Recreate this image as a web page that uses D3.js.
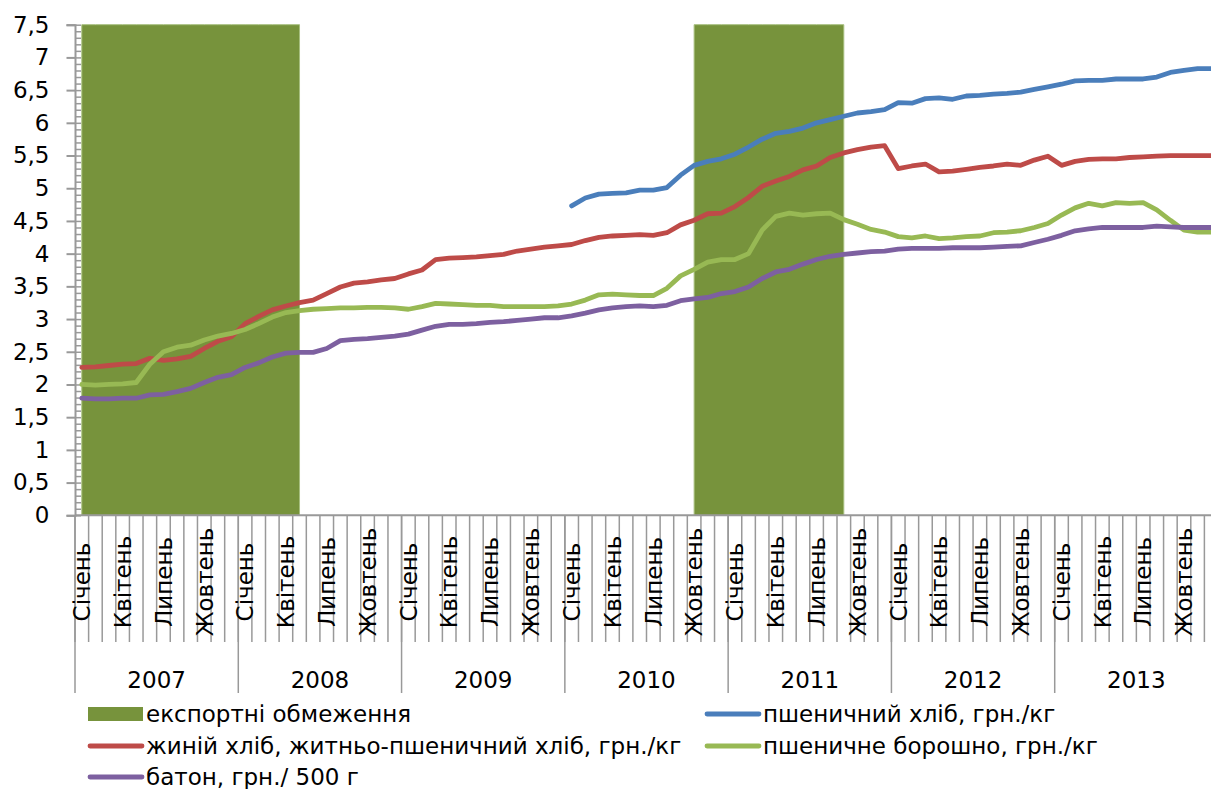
<!DOCTYPE html>
<html lang="uk">
<head>
<meta charset="utf-8">
<script src="https://cdn.jsdelivr.net/npm/d3@7"></script>
<style>
    html, body { margin: 0; padding: 0; background: #fff; }
    svg { display: block; }
</style>
</head>
<body>
<svg id="chart"></svg>
<script>
// 1. DATA
// ============================
const years = ["2007", "2008", "2009", "2010", "2011", "2012", "2013"];
const monthNames = ["Січень", "Лютий", "Березень", "Квітень", "Травень", "Червень",
                    "Липень", "Серпень", "Вересень", "Жовтень", "Листопад", "Грудень"];
const labelEvery = 3; // only every third month is labelled

// export restrictions: [first month, last month] as month index from Jan 2007
const exportPeriods = [[0, 16], [45, 56]];
const exportTop = 7.5;

// пшеничний хліб, грн./кг (no data before 2010)
const wheatBread = [
    null, null, null, null, null, null, null, null, null, null, null, null,
    null, null, null, null, null, null, null, null, null, null, null, null,
    null, null, null, null, null, null, null, null, null, null, null, null,
    4.73, 4.85, 4.91, 4.92, 4.93, 4.97, 4.97, 5.01, 5.20, 5.35, 5.41, 5.45,
    5.52, 5.63, 5.75, 5.84, 5.87, 5.92, 6.00, 6.05, 6.10, 6.15, 6.17, 6.20,
    6.31, 6.30, 6.37, 6.38, 6.36, 6.41, 6.42, 6.44, 6.45, 6.47, 6.51, 6.55,
    6.59, 6.64, 6.65, 6.65, 6.67, 6.67, 6.67, 6.70, 6.77, 6.80, 6.83, 6.83
];
// жиній хліб, житньо-пшеничний хліб, грн./кг
const ryeBread = [
    2.26, 2.27, 2.29, 2.31, 2.32, 2.40, 2.37, 2.39, 2.43, 2.55, 2.66, 2.73,
    2.93, 3.04, 3.14, 3.20, 3.25, 3.29, 3.39, 3.49, 3.55, 3.57, 3.60, 3.62,
    3.69, 3.75, 3.91, 3.93, 3.94, 3.95, 3.97, 3.99, 4.04, 4.07, 4.10, 4.12,
    4.14, 4.20, 4.25, 4.27, 4.28, 4.29, 4.28, 4.32, 4.44, 4.51, 4.61, 4.62,
    4.72, 4.86, 5.03, 5.11, 5.18, 5.28, 5.34, 5.47, 5.54, 5.59, 5.63, 5.65,
    5.30, 5.34, 5.37, 5.25, 5.26, 5.29, 5.32, 5.34, 5.37, 5.35, 5.43, 5.49,
    5.35, 5.41, 5.44, 5.45, 5.45, 5.47, 5.48, 5.49, 5.50, 5.50, 5.50, 5.50
];
// пшеничне борошно, грн./кг
const wheatFlour = [
    2.00, 1.99, 2.00, 2.01, 2.03, 2.31, 2.50, 2.57, 2.60, 2.68, 2.74, 2.78,
    2.84, 2.93, 3.03, 3.10, 3.13, 3.15, 3.16, 3.17, 3.17, 3.18, 3.18, 3.17,
    3.15, 3.19, 3.24, 3.23, 3.22, 3.21, 3.21, 3.19, 3.19, 3.19, 3.19, 3.20,
    3.23, 3.29, 3.37, 3.38, 3.37, 3.36, 3.36, 3.47, 3.66, 3.76, 3.87, 3.91,
    3.91, 4.00, 4.36, 4.57, 4.62, 4.59, 4.61, 4.62, 4.52, 4.45, 4.37, 4.33,
    4.26, 4.24, 4.27, 4.23, 4.24, 4.26, 4.27, 4.32, 4.33, 4.35, 4.40, 4.46,
    4.59, 4.70, 4.77, 4.73, 4.78, 4.77, 4.78, 4.67, 4.51, 4.36, 4.33, 4.33
];
// батон, грн./ 500 г
const loaf = [
    1.79, 1.78, 1.78, 1.79, 1.79, 1.84, 1.85, 1.89, 1.94, 2.03, 2.11, 2.15,
    2.26, 2.33, 2.42, 2.48, 2.49, 2.49, 2.55, 2.67, 2.69, 2.70, 2.72, 2.74,
    2.77, 2.83, 2.89, 2.92, 2.92, 2.93, 2.95, 2.96, 2.98, 3.00, 3.02, 3.02,
    3.05, 3.09, 3.14, 3.17, 3.19, 3.20, 3.19, 3.21, 3.28, 3.31, 3.33, 3.39,
    3.42, 3.49, 3.62, 3.72, 3.76, 3.84, 3.91, 3.96, 3.99, 4.01, 4.03, 4.04,
    4.07, 4.08, 4.08, 4.08, 4.09, 4.09, 4.09, 4.10, 4.11, 4.12, 4.17, 4.22,
    4.28, 4.35, 4.38, 4.40, 4.40, 4.40, 4.40, 4.42, 4.41, 4.40, 4.40, 4.40
];

const seriesList = [
    { name: "пшеничний хліб, грн./кг", values: wheatBread, color: "#4A7EBB" },
    { name: "жиній хліб, житньо-пшеничний хліб, грн./кг", values: ryeBread, color: "#BE4B48" },
    { name: "пшеничне борошно, грн./кг", values: wheatFlour, color: "#98B954" },
    { name: "батон, грн./ 500 г", values: loaf, color: "#7D60A0" }
];
const bandName = "експортні обмеження";
const bandColor = "#77933C";

// 2. SVG AND SCALES
// ============================
const width = 1211, height = 789;
const plotLeft = 75, plotRight = 1218, plotTop = 24.7, plotBottom = 515.3;
const axisColor = "#999";
const fontFamily = "'DejaVu Sans', Verdana, sans-serif";
const fontSize = 23;

const svg = d3.select("#chart")
    .attr("width", width).attr("height", height)
    .attr("font-family", fontFamily).attr("font-size", fontSize);

const months = d3.range(years.length * 12);
const x = d3.scaleBand().domain(months).range([plotLeft, plotRight]).padding(0);
const xc = i => x(i) + x.bandwidth() / 2;
const y = d3.scaleLinear().domain([0, 7.5]).range([plotBottom, plotTop]);

const ua = d3.formatLocale({ decimal: ",", thousands: " ", grouping: [3], currency: ["", " грн"] });
const fmt = ua.format(".1~f");

// 3. EXPORT RESTRICTION BANDS
// ============================
const bandArea = d3.area()
    .x(d => xc(d))
    .y0(y(0))
    .y1(y(exportTop));

svg.append("g").selectAll("path")
    .data(exportPeriods)
    .join("path")
    .attr("d", p => bandArea(d3.range(p[0], p[1] + 1)))
    .attr("fill", bandColor)
    .attr("stroke", "#a7bf7e")
    .attr("stroke-width", 1);

// 4. AXES
// ============================
// y: major ticks outside, minor ticks (0.1) inside
const yMinor = d3.axisRight(y).tickValues(d3.range(0, 76).map(d => d / 10))
    .tickSize(6).tickFormat("");
svg.append("g").attr("transform", `translate(${plotLeft},0)`).call(yMinor)
    .call(g => g.select(".domain").remove())
    .call(g => g.selectAll("line").attr("stroke", axisColor).attr("stroke-width", 1.5));

const yAxis = d3.axisLeft(y).tickValues(d3.range(0, 16).map(d => d / 2))
    .tickSize(8.5).tickPadding(17).tickFormat(fmt);
svg.append("g").attr("transform", `translate(${plotLeft},0)`).call(yAxis)
    .attr("font-family", fontFamily).attr("font-size", fontSize)
    .call(g => g.select(".domain").attr("stroke", axisColor).attr("stroke-width", 2))
    .call(g => g.selectAll("line").attr("stroke", axisColor).attr("stroke-width", 2))
    .call(g => g.selectAll("text").attr("fill", "#000"));

// x: month boundary lines, year boundary lines, and labels
const xg = svg.append("g");
xg.append("line")
    .attr("x1", plotLeft).attr("x2", plotRight)
    .attr("y1", plotBottom).attr("y2", plotBottom)
    .attr("stroke", axisColor).attr("stroke-width", 2);

xg.selectAll(".mtick")
    .data(d3.range(months.length + 1))
    .join("line")
    .attr("class", "mtick")
    .attr("x1", i => plotLeft + i * x.bandwidth())
    .attr("x2", i => plotLeft + i * x.bandwidth())
    .attr("y1", plotBottom).attr("y2", 642)
    .attr("stroke", axisColor).attr("stroke-width", 1.5);

xg.selectAll(".ytick")
    .data(d3.range(years.length + 1))
    .join("line")
    .attr("class", "ytick")
    .attr("x1", i => x(i * 12) ?? plotRight)
    .attr("x2", i => x(i * 12) ?? plotRight)
    .attr("y1", plotBottom).attr("y2", 693)
    .attr("stroke", axisColor).attr("stroke-width", 1.5);

xg.selectAll(".mlabel")
    .data(months.filter(i => i % labelEvery === 0))
    .join("text")
    .attr("class", "mlabel")
    .attr("text-anchor", "middle")
    .attr("dy", "0.36em")
    .attr("transform", i => `translate(${xc(i)},582) rotate(-90)`)
    .text(i => monthNames[i % 12]);

xg.selectAll(".ylabel")
    .data(years)
    .join("text")
    .attr("class", "ylabel")
    .attr("text-anchor", "middle")
    .attr("dy", "0.36em")
    .attr("x", (d, k) => (x(k * 12) + (x(k * 12 + 11) + x.bandwidth())) / 2)
    .attr("y", 680)
    .text(d => d);

// 5. LINES
// ============================
const line = d3.line()
    .defined(d => d != null)
    .x((d, i) => xc(i))
    .y(d => y(d));

svg.append("g").selectAll("path")
    .data(seriesList)
    .join("path")
    .attr("d", s => line(s.values))
    .attr("fill", "none")
    .attr("stroke", s => s.color)
    .attr("stroke-width", 4.8)
    .attr("stroke-linejoin", "round")
    .attr("stroke-linecap", "round");

// 6. LEGEND
// ============================
const legendItems = [
    { name: bandName, color: bandColor, type: "rect", col: 0, row: 0 },
    { ...seriesList[0], type: "line", col: 1, row: 0 },
    { ...seriesList[1], type: "line", col: 0, row: 1 },
    { ...seriesList[2], type: "line", col: 1, row: 1 },
    { ...seriesList[3], type: "line", col: 0, row: 2 }
];
const colX = [88, 705];
const rowY = [714, 746, 777];

const leg = svg.append("g").selectAll("g")
    .data(legendItems)
    .join("g")
    .attr("transform", d => `translate(${colX[d.col]},${rowY[d.row]})`);

leg.filter(d => d.type === "rect").append("rect")
    .attr("x", 0).attr("y", -7).attr("width", 55).attr("height", 14)
    .attr("fill", d => d.color);

leg.filter(d => d.type === "line").append("line")
    .attr("x1", 2).attr("x2", 54).attr("y1", 0).attr("y2", 0)
    .attr("stroke", d => d.color).attr("stroke-width", 4.8)
    .attr("stroke-linecap", "round");

leg.append("text")
    .attr("x", 58)
    .attr("dy", "0.36em")
    .attr("fill", "#000")
    .text(d => d.name);
</script>
</body>
</html>
